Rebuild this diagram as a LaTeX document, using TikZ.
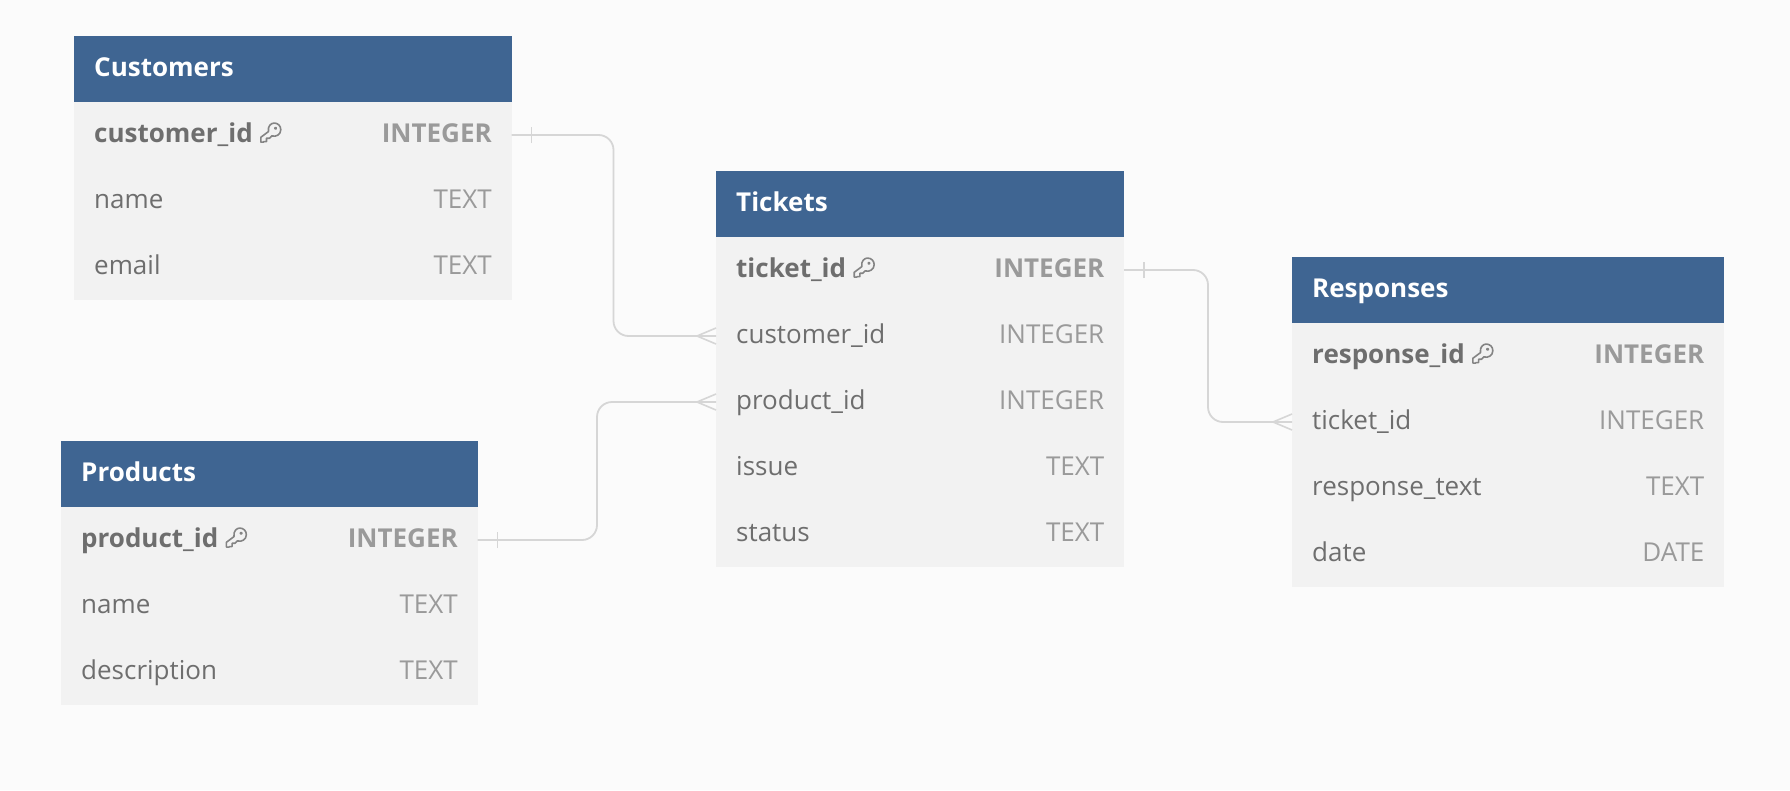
\documentclass[tikz,border=0pt]{standalone}
\usepackage{fontspec}
\setmainfont{Open Sans}
\definecolor{bgc}{HTML}{FBFBFB}
\definecolor{headc}{HTML}{3F6592}
\definecolor{bodyc}{HTML}{F2F2F2}
\definecolor{namec}{HTML}{6E6E6E}
\definecolor{typec}{HTML}{9A9A9A}
\definecolor{linec}{HTML}{D6D6D6}
\tikzset{
  headbox/.style={fill=headc,draw=none,inner sep=0pt,outer sep=0pt,anchor=north west,minimum height=66pt},
  rowbox/.style={fill=bodyc,draw=none,inner sep=0pt,outer sep=0pt,anchor=north west,minimum height=66pt},
  titletxt/.style={text=white,inner sep=0pt,anchor=base west,font=\fontsize{26}{31}\selectfont\bfseries},
  nametxt/.style={text=namec,inner sep=0pt,anchor=base west,font=\fontsize{26}{31}\selectfont},
  typetxt/.style={text=typec,inner sep=0pt,anchor=base east,font=\fontsize{26}{31}\selectfont},
  conn/.style={draw=linec,line width=1.8pt,rounded corners=15pt},
  endmark/.style={draw=linec,line width=1.6pt},
  keyicon/.style={draw=namec!85,line width=1.6pt,line join=round,line cap=round},
}
% head: name, x, ytop, width, title
\newcommand{\ehead}[5]{%
  \node[headbox,minimum width=#4pt] (#1) at (#2,#3) {};
  \node[titletxt] (#1t) at ([xshift=20pt,yshift=-40pt]#1.north west) {#5};
}
% row: name, x, ytop, width, label, type, extra font
\newcommand{\erow}[7]{%
  \node[rowbox,minimum width=#4pt] (#1) at (#2,#3) {};
  \node[nametxt] (#1n) at ([xshift=20pt,yshift=-40pt]#1.north west) {#7#5};
  \node[typetxt] (#1y) at ([xshift=-19.5pt,yshift=-40pt]#1.north east) {#7#6};
}
% key icon to the right of a label: node name
\newcommand{\ekey}[1]{%
  \begin{scope}[shift={([xshift=6pt,yshift=-1pt]#1.base east)},scale=0.95]
    \draw[keyicon] (2,-1) -- (2,-6) -- (10,-12) .. controls (9,-18) and (13,-21) .. (16,-21)
      .. controls (20,-21) and (23,-18) .. (23,-14) .. controls (23,-9) and (18,-6) .. (13.5,-7.5)
      -- (11,-5) -- (8,-5) -- (8,-1.5) -- (5,-1.5) -- (5,-1) -- cycle;
    \draw[keyicon,fill=namec!85] (17.5,-15.5) circle (0.9);
  \end{scope}
}
\begin{document}
\begin{tikzpicture}[x=1pt,y=-1pt]
\useasboundingbox (0,0) rectangle (1790,790);
\fill[bgc] (0,0) rectangle (1790,790);

% Customers
\ehead{cust}{74}{36}{437.5}{Customers}
\erow{custa}{74}{102}{437.5}{customer\_id}{INTEGER}{\bfseries}
\erow{custb}{74}{168}{437.5}{name}{TEXT}{}
\erow{custc}{74}{234}{437.5}{email}{TEXT}{}
\ekey{custan}

% Products
\ehead{prod}{61}{441}{416.5}{Products}
\erow{proda}{61}{507}{416.5}{product\_id}{INTEGER}{\bfseries}
\erow{prodb}{61}{573}{416.5}{name}{TEXT}{}
\erow{prodc}{61}{639}{416.5}{description}{TEXT}{}
\ekey{prodan}

% Tickets
\ehead{tick}{716}{171}{408}{Tickets}
\erow{ticka}{716}{237}{408}{ticket\_id}{INTEGER}{\bfseries}
\erow{tickb}{716}{303}{408}{customer\_id}{INTEGER}{}
\erow{tickc}{716}{369}{408}{product\_id}{INTEGER}{}
\erow{tickd}{716}{435}{408}{issue}{TEXT}{}
\erow{ticke}{716}{501}{408}{status}{TEXT}{}
\ekey{tickan}

% Responses
\ehead{resp}{1292}{257}{432}{Responses}
\erow{respa}{1292}{323}{432}{response\_id}{INTEGER}{\bfseries}
\erow{respb}{1292}{389}{432}{ticket\_id}{INTEGER}{}
\erow{respc}{1292}{455}{432}{response\_text}{TEXT}{}
\erow{respd}{1292}{521}{432}{date}{DATE}{}
\ekey{respan}

% routing columns
\coordinate (r1) at (613.5,0);
\coordinate (r2) at (597,0);
\coordinate (r3) at (1208,0);

% connectors
\draw[conn] (custa.east) -- (r1 |- custa.east) -- (r1 |- tickb.west) -- (tickb.west);
\draw[conn] (proda.east) -- (r2 |- proda.east) -- (r2 |- tickc.west) -- (tickc.west);
\draw[conn] (ticka.east) -- (r3 |- ticka.east) -- (r3 |- respb.west) -- (respb.west);

% one-ends
\foreach \n in {custa,proda,ticka}{
  \draw[endmark] ([xshift=20pt,yshift=-8pt]\n.east) -- ([xshift=20pt,yshift=8pt]\n.east);
}
% many-ends
\foreach \n in {tickb,tickc,respb}{
  \draw[endmark] ([yshift=8pt]\n.west) -- ([xshift=-19pt]\n.west) -- ([yshift=-8pt]\n.west);
}
\end{tikzpicture}
\end{document}
